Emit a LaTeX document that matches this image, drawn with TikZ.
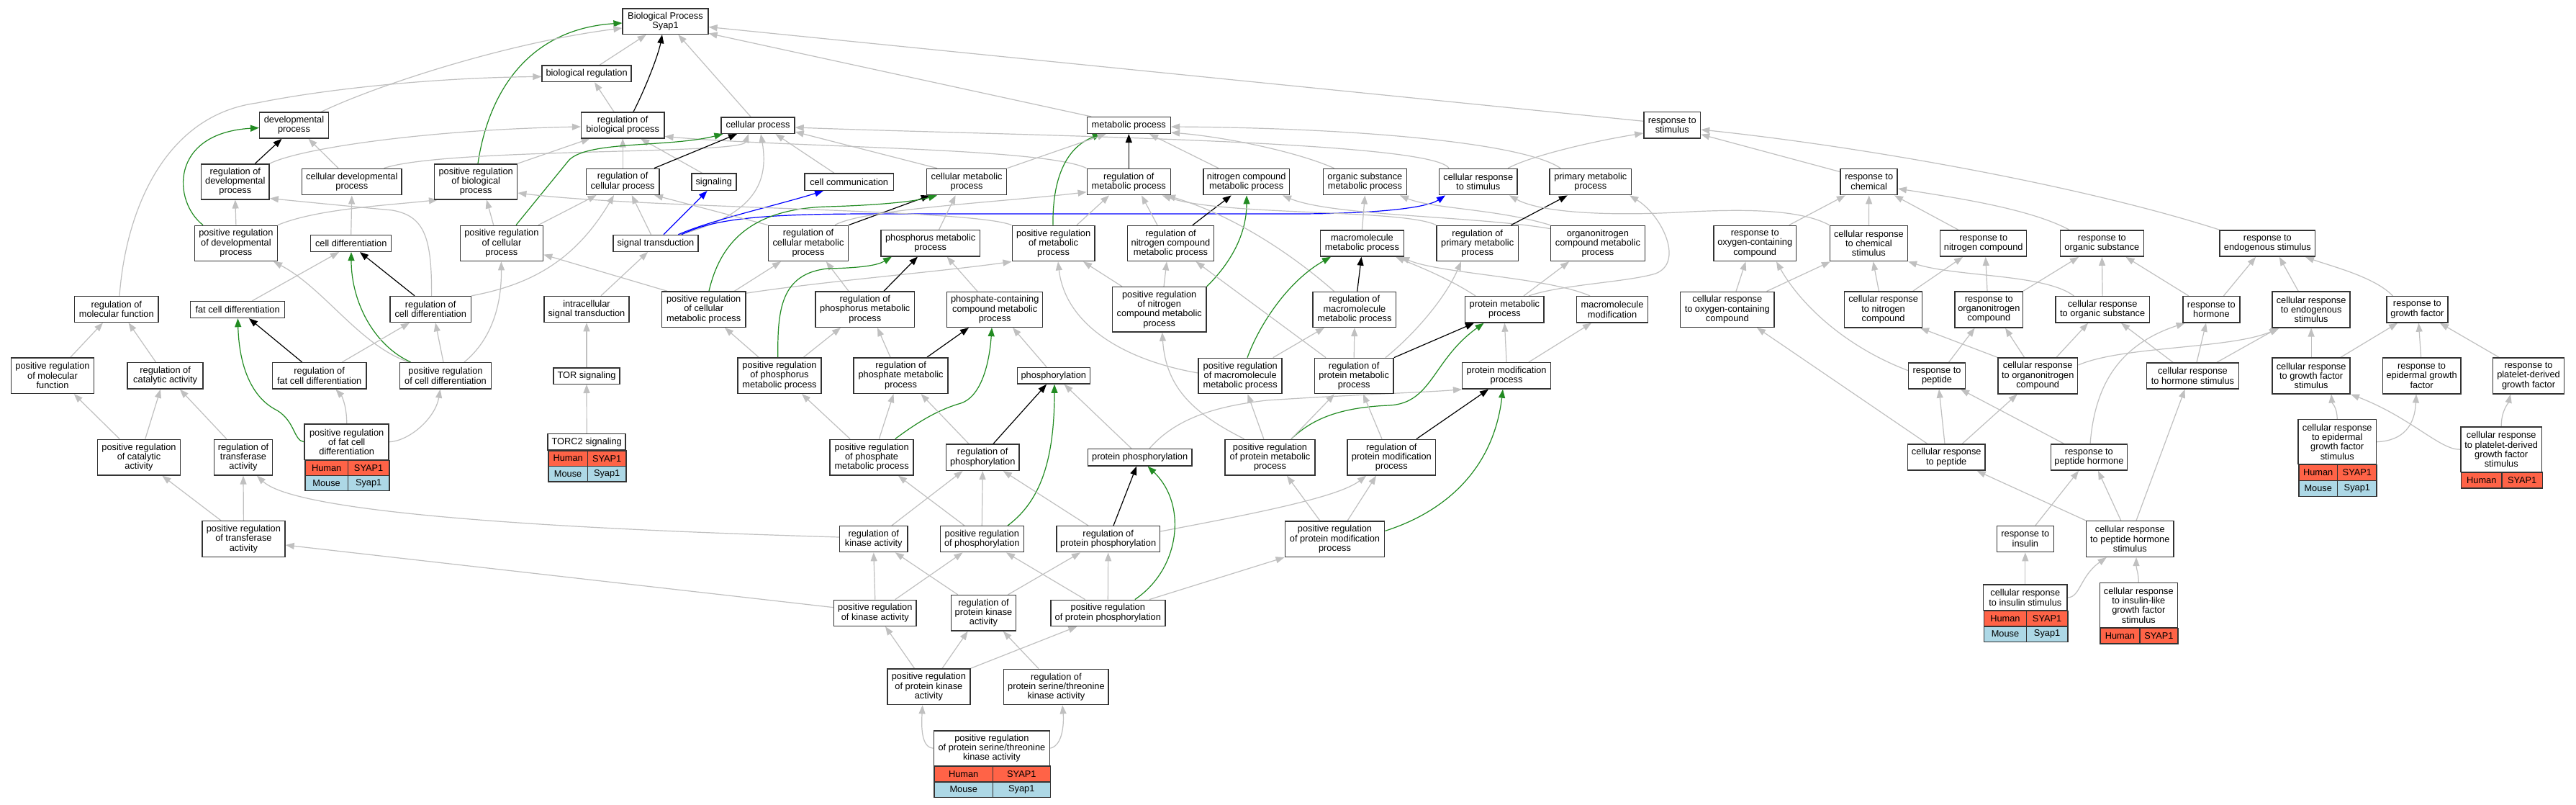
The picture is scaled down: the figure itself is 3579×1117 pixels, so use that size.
\documentclass[tikz,border=0pt]{standalone}
\usepackage{fontspec}
\setmainfont{Liberation Sans}
\usetikzlibrary{arrows.meta}
\pgfdeclarelayer{bg}
\pgfdeclarelayer{edges}
\pgfsetlayers{bg,edges,main}
\definecolor{edgegray}{RGB}{192,192,192}
\definecolor{gogreen}{RGB}{34,139,34}
\definecolor{goblue}{RGB}{0,0,255}
\definecolor{hum}{RGB}{255,99,71}
\definecolor{mou}{RGB}{173,216,230}
\newcommand{\gofont}{\fontsize{12.8pt}{13.3pt}\selectfont}
\tikzset{
  gobox/.style={draw=black!80, line width=1.5pt, fill=white, align=center, inner xsep=2pt, inner ysep=0pt, font=\gofont},
  gocell/.style={draw=black!80, line width=1.5pt, align=center, inner sep=0pt, font=\gofont},
  isa/.style={draw=edgegray, line width=1.2pt, -{Triangle[length=12pt,width=9pt]}},
  reg/.style={isa, draw=black},
  preg/.style={isa, draw=gogreen},
  part/.style={isa, draw=goblue}
}
\newcommand{\gonode}[6]{\node[gobox, minimum width=#4pt, minimum height=#5pt] (#1) at (#2,#3) {#6};}
\newcommand{\genrow}[9]{%
  \node[gocell, fill=#7, anchor=north west, minimum width={(#3)-(#2)}, minimum height={(#6)-(#5)}] (#1a) at (#2,#5) {#8};%
  \node[gocell, fill=#7, anchor=north west, minimum width={(#4)-(#3)}, minimum height={(#6)-(#5)}] (#1b) at (#3,#5) {#9};}
\begin{document}
\begin{tikzpicture}[x=1pt,y=-1pt]
\useasboundingbox (0,0) rectangle (3579,1117);
\begin{pgfonlayer}{bg}
\fill[white] (0,0) rectangle (3579,1117);
\end{pgfonlayer}
% ---------- nodes ----------
\gonode{BP}{924.5}{29.6}{118.7}{35.7}{Biological Process\\Syap1}
\gonode{bioreg}{815.1}{102.3}{124.1}{22.5}{biological regulation}
\gonode{devproc}{408.5}{174}{95.6}{36}{developmental\\process}
\gonode{regbio}{865.2}{173.9}{115.2}{35.7}{regulation of\\biological process}
\gonode{cellproc}{1053.1}{174.1}{101.8}{22.5}{cellular process}
\gonode{metproc}{1568.3}{174}{116}{22.6}{metabolic process}
\gonode{respstim}{2323.2}{173.8}{78.6}{36.3}{response to\\stimulus}
\gonode{regdev}{326.8}{252.3}{94.6}{49}{regulation of\\developmental\\process}
\gonode{celldev}{488.8}{252.5}{138.4}{36.4}{cellular developmental\\process}
\gonode{posregbio}{661.2}{252.3}{115}{49}{positive regulation\\of biological\\process}
\gonode{regcell}{865.2}{252.3}{101.8}{36}{regulation of\\cellular process}
\gonode{signaling}{991.8}{252.7}{62}{23.2}{signaling}
\gonode{cellcomm}{1179.7}{252.7}{123.7}{23.2}{cell communication}
\gonode{cellmet}{1343.1}{252.5}{111.2}{36.3}{cellular metabolic\\process}
\gonode{regmet}{1568.3}{252.5}{116}{36.3}{regulation of\\metabolic process}
\gonode{nitro}{1731.7}{252.5}{119.6}{36.3}{nitrogen compound\\metabolic process}
\gonode{orgsub}{1896.4}{252.5}{116.1}{36.3}{organic substance\\metabolic process}
\gonode{cellrespstim}{2053.8}{252.5}{108.5}{36.3}{cellular response\\to stimulus}
\gonode{primmet}{2209.8}{252.5}{113.4}{36.3}{primary metabolic\\process}
\gonode{respchem}{2596.7}{252.5}{79}{36.3}{response to\\chemical}
\gonode{posregdev}{327.9}{337.9}{114.7}{49.3}{positive regulation\\of developmental\\process}
\gonode{celldiff}{487.7}{337.9}{112}{22.9}{cell differentiation}
\gonode{posregcell}{696.9}{337.9}{115.2}{49.3}{positive regulation\\of cellular\\process}
\gonode{sigtrans}{911}{337.9}{118.3}{22.9}{signal transduction}
\gonode{regcellmet}{1123}{337.9}{111.2}{49.3}{regulation of\\cellular metabolic\\process}
\gonode{phosmet}{1292.7}{337.7}{137.1}{36.1}{phosphorus metabolic\\process}
\gonode{posregmet}{1463.6}{338}{114.7}{49.3}{positive regulation\\of metabolic\\process}
\gonode{regnitro}{1626.5}{338}{120.1}{49.3}{regulation of\\nitrogen compound\\metabolic process}
\gonode{macromet}{1892.4}{338}{116}{36}{macromolecule\\metabolic process}
\gonode{regprimmet}{2052.7}{338}{113.4}{49.3}{regulation of\\primary metabolic\\process}
\gonode{orgnitro}{2219.9}{338}{130.8}{49.3}{organonitrogen\\compound metabolic\\process}
\gonode{respoxy}{2438.2}{338}{114.7}{49.3}{response to\\oxygen-containing\\compound}
\gonode{cellrespchem}{2596.4}{338}{108}{49.3}{cellular response\\to chemical\\stimulus}
\gonode{respnitro}{2755.7}{338}{120}{36.4}{response to\\nitrogen compound}
\gonode{resporg}{2920.4}{338}{116.2}{36.4}{response to\\organic substance}
\gonode{respendo}{3150.4}{338}{132.6}{36.4}{response to\\endogenous stimulus}
\gonode{regmol}{161.8}{429.5}{116.5}{36}{regulation of\\molecular function}
\gonode{fatdiff}{330.1}{430}{130.8}{22.9}{fat cell differentiation}
\gonode{regcelldiff}{598.2}{429.5}{112.5}{36}{regulation of\\cell differentiation}
\gonode{intrasig}{815}{429.5}{118.3}{36}{intracellular\\signal transduction}
\gonode{posregcellmet}{977.7}{429.6}{116.1}{49.3}{positive regulation\\of cellular\\metabolic process}
\gonode{regphosmet}{1201.8}{429.6}{137.5}{49.3}{regulation of\\phosphorus metabolic\\process}
\gonode{phoscont}{1382.2}{429.8}{133}{49}{phosphate-containing\\compound metabolic\\process}
\gonode{posregnitro}{1610.7}{429.8}{130.4}{62.3}{positive regulation\\of nitrogen\\compound metabolic\\process}
\gonode{regmacro}{1881.9}{429.8}{115.6}{49}{regulation of\\macromolecule\\metabolic process}
\gonode{protmet}{2090.4}{429.8}{109.4}{36.3}{protein metabolic\\process}
\gonode{macromod}{2240}{429.8}{98.7}{36.3}{macromolecule\\modification}
\gonode{cellrespoxy}{2399.8}{429.8}{130.8}{49}{cellular response\\to oxygen-containing\\compound}
\gonode{cellrespnitro}{2616.6}{429.8}{108.2}{50}{cellular response\\to nitrogen\\compound}
\gonode{resporgnitro}{2763.3}{429.8}{94.5}{50}{response to\\organonitrogen\\compound}
\gonode{cellresporg}{2921.1}{429.8}{130.6}{36.3}{cellular response\\to organic substance}
\gonode{resphorm}{3072.4}{429.8}{78.7}{36.3}{response to\\hormone}
\gonode{cellrespendo}{3211.1}{429.8}{108.2}{50}{cellular response\\to endogenous\\stimulus}
\gonode{respgf}{3358.4}{429.8}{85.3}{36.3}{response to\\growth factor}
\gonode{posregmol}{73}{521.6}{114.8}{49.6}{positive regulation\\of molecular\\function}
\gonode{regcat}{229.7}{521.8}{105}{36.4}{regulation of\\catalytic activity}
\gonode{regfatdiff}{443.7}{521.8}{130.4}{36.4}{regulation of\\fat cell differentiation}
\gonode{posregcelldiff}{619}{521.8}{127.2}{36.4}{positive regulation\\of cell differentiation}
\gonode{TOR}{815}{522}{92.4}{22.5}{TOR signaling}
\gonode{posregphosmet}{1083}{521.6}{116.1}{49.6}{positive regulation\\of phosphorus\\metabolic process}
\gonode{regphosphate}{1251.6}{521.6}{130.8}{49.6}{regulation of\\phosphate metabolic\\process}
\gonode{phosphorylation}{1463.8}{521.7}{100.9}{22.7}{phosphorylation}
\gonode{posregmacro}{1723.2}{522}{116}{49.3}{positive regulation\\of macromolecule\\metabolic process}
\gonode{regprotmet}{1881.2}{522}{109.8}{49.3}{regulation of\\protein metabolic\\process}
\gonode{protmod}{2093.1}{521.8}{122.8}{36.3}{protein modification\\process}
\gonode{resppep}{2691}{521.9}{78.7}{36}{response to\\peptide}
\gonode{cellresporgnitro}{2831.2}{521.9}{110.9}{49.8}{cellular response\\to organonitrogen\\compound}
\gonode{cellresphorm}{3046.4}{521.9}{128}{36}{cellular response\\to hormone stimulus}
\gonode{cellrespgf}{3211.1}{521.9}{108.2}{49.8}{cellular response\\to growth factor\\stimulus}
\gonode{respegf}{3364.6}{521.9}{108.3}{49.8}{response to\\epidermal growth\\factor}
\gonode{resppdgf}{3513}{521.9}{99.1}{49.8}{response to\\platelet-derived\\growth factor}
\gonode{posregcat}{193}{635.1}{114.7}{49.7}{positive regulation\\of catalytic\\activity}
\gonode{regtrans}{338}{635.1}{81.3}{49.7}{regulation of\\transferase\\activity}
\gonode{posregphosphate}{1211.1}{635.1}{116.1}{49.7}{positive regulation\\of phosphate\\metabolic process}
\gonode{regphosphoryl}{1365.2}{635.2}{101.8}{36.3}{regulation of\\phosphorylation}
\gonode{protphos}{1583.7}{635.3}{144.2}{23.3}{protein phosphorylation}
\gonode{posregprotmet}{1764.5}{635.2}{124.6}{49.7}{positive regulation\\of protein metabolic\\process}
\gonode{regprotmod}{1933.3}{635.2}{122.7}{49.7}{regulation of\\protein modification\\process}
\gonode{cellresppep}{2704.2}{635.2}{107.6}{36}{cellular response\\to peptide}
\gonode{resppephorm}{2902.4}{635.2}{106.3}{36}{response to\\peptide hormone}
\gonode{posregtrans}{338.4}{748.5}{115.2}{49.7}{positive regulation\\of transferase\\activity}
\gonode{regkinase}{1213.8}{748.6}{94.6}{36}{regulation of\\kinase activity}
\gonode{posregphosphoryl}{1364.3}{748.7}{116.1}{36}{positive regulation\\of phosphorylation}
\gonode{regprotphos}{1539.7}{748.7}{143.7}{36}{regulation of\\protein phosphorylation}
\gonode{posregprotmod}{1854.5}{748.7}{138.4}{49.3}{positive regulation\\of protein modification\\process}
\gonode{respinsulin}{2813.8}{748.5}{79}{36.3}{response to\\insulin}
\gonode{cellresppephorm}{2959.3}{748.5}{121.3}{49.7}{cellular response\\to peptide hormone\\stimulus}
\gonode{posregkinase}{1215.8}{851.3}{114.7}{36}{positive regulation\\of kinase activity}
\gonode{regprotkinase}{1366.5}{851.3}{90.2}{49.3}{regulation of\\protein kinase\\activity}
\gonode{posregprotphos}{1539.3}{851.3}{158.9}{36}{positive regulation\\of protein phosphorylation}
\gonode{posregprotkinase}{1290.4}{953.8}{114.7}{49.6}{positive regulation\\of protein kinase\\activity}
\gonode{regserthr}{1467.4}{954}{145.6}{49.3}{regulation of\\protein serine/threonine\\kinase activity}
% ---------- gene tables ----------
\gonode{posregfat}{481.7}{613.75}{117}{49.7}{positive regulation\\of fat cell\\differentiation}
\genrow{posregfatH}{423.2}{482.6}{540.2}{638.6}{659.6}{hum}{Human}{SYAP1}
\genrow{posregfatM}{423.2}{482.6}{540.2}{659.6}{680.9}{mou}{Mouse}{Syap1}
\gonode{TORC2}{815.2}{613.8}{108}{22.4}{TORC2 signaling}
\genrow{TORC2H}{761.2}{815.6}{869.2}{625}{646.7}{hum}{Human}{SYAP1}
\genrow{TORC2M}{761.2}{815.6}{869.2}{646.7}{668}{mou}{Mouse}{Syap1}
\gonode{cellrespegf}{3247.2}{613.7}{108.3}{62}{cellular response\\to epidermal\\growth factor\\stimulus}
\genrow{cellrespegfH}{3193}{3246.9}{3301.3}{644.7}{666.5}{hum}{Human}{SYAP1}
\genrow{cellrespegfM}{3193}{3246.9}{3301.3}{666.5}{688.7}{mou}{Mouse}{Syap1}
\gonode{cellresppdgf}{3475.2}{624.2}{112.8}{62.4}{cellular response\\to platelet-derived\\growth factor\\stimulus}
\genrow{cellresppdgfH}{3418.8}{3475.2}{3531.6}{655.4}{677.3}{hum}{Human}{SYAP1}
\gonode{cellrespins}{2813.8}{829.85}{116.3}{35.7}{cellular response\\to insulin stimulus}
\genrow{cellrespinsH}{2755.7}{2814.7}{2872}{847.7}{869}{hum}{Human}{SYAP1}
\genrow{cellrespinsM}{2755.7}{2814.7}{2872}{869}{890.7}{mou}{Mouse}{Syap1}
\gonode{cellrespigf}{2971.3}{840.5}{108}{62.4}{cellular response\\to insulin-like\\growth factor\\stimulus}
\genrow{cellrespigfH}{2917.3}{2972}{3025.3}{871.7}{893.3}{hum}{Human}{SYAP1}
\gonode{posregserthr}{1377.9}{1039.15}{161.2}{48.3}{positive regulation\\of protein serine/threonine\\kinase activity}
\genrow{posregserthrH}{1297.3}{1378.6}{1458.5}{1063.3}{1085}{hum}{Human}{SYAP1}
\genrow{posregserthrM}{1297.3}{1378.6}{1458.5}{1085}{1106.7}{mou}{Mouse}{Syap1}
% ---------- edges ----------
\begin{pgfonlayer}{edges}
\draw[isa] ([xshift=17.9pt]bioreg.north) -- ([xshift=-26.7pt]BP.south);
\draw[reg] ([xshift=14.8pt]regbio.north) .. controls (898,120) and (915,75) .. ([xshift=-4.5pt]BP.south);
\draw[isa] ([xshift=-10.1pt]cellproc.north) -- ([xshift=17.9pt]BP.south);
\draw[preg] ([xshift=2.8pt]posregbio.north) .. controls (680,120) and (740,40) .. ([yshift=-2.4pt]BP.west);
\draw[isa] ([xshift=37.9pt]devproc.north) .. controls (520,120) and (700,60) .. ([yshift=-9.4pt]BP.west);
\draw[isa] ([xshift=-52pt]metproc.north) -- ([yshift=-16.8pt]BP.east);
\draw[isa] ([yshift=5.5pt]respstim.west) -- ([yshift=-7.9pt]BP.east);
\draw[isa] ([xshift=-12.2pt]regbio.north) -- ([xshift=10.9pt]bioreg.south);
\draw[isa] ([xshift=4.2pt]regmol.north) .. controls (175,290) and (230,160) .. (357,143) .. controls (450,124) and (600,108) .. ([yshift=-4.1pt]bioreg.west);
\draw[reg] ([xshift=27.7pt]regdev.north) -- ([xshift=-17pt]devproc.south);
\draw[isa] ([xshift=-18.8pt]celldev.north) -- ([xshift=20.1pt]devproc.south);
\draw[preg] ([xshift=-45.9pt]posregdev.north) .. controls (240,280) and (235,185) .. ([yshift=-3.5pt]devproc.west);
\draw[isa] (regdev.north east) .. controls (420,205) and (600,180) .. ([yshift=-2.1pt]regbio.west);
\draw[isa] ([xshift=44.7pt]celldev.north) .. controls (620,205) and (1030,215) .. ([xshift=-13.1pt]cellproc.south);
\draw[isa] (posregdev.north) -- (regdev.south);
\draw[isa] (posregdev.north east) .. controls (440,290) and (540,285) .. ([xshift=5pt]posregbio.south west);
\draw[isa] (celldiff.north) -- (celldev.south);
\draw[isa] (posregbio.north east) -- ([xshift=-45.6pt]regbio.south);
\draw[isa] (regcell.north) -- (regbio.south);
\draw[isa] ([xshift=-16.3pt]signaling.north) -- ([xshift=24.8pt]regbio.south);
\draw[isa] (regmet.north west) .. controls (1450,205) and (1100,205) .. ([yshift=3pt]regbio.south east);
\draw[reg] ([xshift=43.8pt]regcell.north) -- ([xshift=-29.1pt]cellproc.south);
\draw[preg] ([xshift=20.1pt]posregcell.north) -- (790,223) .. controls (815,195) and (930,205) .. ([xshift=3pt]cellproc.south west);
\draw[isa] ([xshift=-20.7pt]cellcomm.north) -- ([xshift=24.4pt]cellproc.south);
\draw[isa] ([xshift=-41.1pt]cellmet.north) -- ([yshift=3pt]cellproc.south east);
\draw[isa] ([xshift=-40.8pt]cellrespstim.north) .. controls (1990,195) and (1400,188) .. ([yshift=-2.9pt]cellproc.east);
\draw[isa] ([xshift=34pt]sigtrans.north) .. controls (1040,300) and (1070,260) .. ([xshift=3.9pt]cellproc.south);
\draw[isa] ([xshift=-11.2pt]posregcell.north) -- ([xshift=14.8pt]posregbio.south);
\draw[isa] ([xshift=51.1pt]posregcell.north) -- ([xshift=-36.6pt]regcell.south);
\draw[isa] ([xshift=1.4pt]regcelldiff.north) .. controls (600,330) and (590,300) .. (545,292) .. controls (480,286) and (420,280) .. ([yshift=2pt]regdev.south east);
\draw[isa] (regcelldiff.north east) .. controls (740,395) and (800,360) .. ([xshift=-12.2pt]regcell.south);
\draw[reg] ([xshift=-22.2pt]regcelldiff.north) -- ([xshift=12.3pt]celldiff.south);
\draw[isa] ([xshift=20.3pt]fatdiff.north) -- ([xshift=-16.7pt]celldiff.south);
\draw[preg] ([xshift=-48.5pt]posregcelldiff.north) .. controls (520,480) and (488,420) .. ([xshift=0.3pt]celldiff.south);
\draw[isa] ([xshift=-51pt]posregcelldiff.north) .. controls (500,480) and (450,400) .. ([xshift=-6pt]posregdev.south east);
\draw[isa] ([xshift=-3pt]posregcelldiff.north) -- ([xshift=6.8pt]regcelldiff.south);
\draw[isa] ([xshift=26pt]posregcelldiff.north) .. controls (685,470) and (697,420) .. ([xshift=-0.5pt]posregcell.south);
\draw[reg] ([xshift=-24.1pt]regfatdiff.north) -- ([xshift=15.9pt]fatdiff.south);
\draw[isa] ([xshift=31.7pt]regfatdiff.north) -- ([xshift=-29.2pt]regcelldiff.south);
\draw[preg] (posregfat.west) .. controls (408,612) and (410,585) .. (385,570) .. controls (345,550) and (332,500) .. ([xshift=0.3pt]fatdiff.south);
\draw[isa] (posregfat.north) .. controls (482,565) and (475,550) .. ([xshift=22.8pt]regfatdiff.south);
\draw[isa] (posregfat.east) .. controls (570,612) and (605,580) .. ([xshift=-7.4pt]posregcelldiff.south);
\draw[isa] ([xshift=25pt]posregmol.north) -- ([xshift=-18.8pt]regmol.south);
\draw[isa] ([xshift=-13.2pt]regcat.north) -- ([xshift=16.8pt]regmol.south);
\draw[isa] ([xshift=-27pt]posregcat.north) -- ([xshift=29.7pt]posregmol.south);
\draw[isa] ([xshift=8.8pt]posregcat.north) -- ([xshift=-6.7pt]regcat.south);
\draw[isa] ([xshift=-23.3pt]regtrans.north) -- ([xshift=20.3pt]regcat.south);
\draw[isa] ([xshift=-31.4pt]posregtrans.north) -- ([xshift=32.4pt]posregcat.south);
\draw[isa] (posregtrans.north) -- (regtrans.south);
\draw[isa] ([yshift=2.6pt]regkinase.west) .. controls (900,738) and (420,720) .. ([xshift=19pt]regtrans.south);
\draw[isa] ([yshift=7.7pt]posregkinase.west) -- ([yshift=-8.5pt]posregtrans.east);
\draw[isa] ([xshift=20pt]intrasig.north) -- ([xshift=-11pt]sigtrans.south);
\draw[isa] (TOR.north) -- (intrasig.south);
\draw[isa] (TORC2.north) -- (TOR.south);
\draw[part] ([xshift=11pt]sigtrans.north) -- ([xshift=-9.2pt]signaling.south);
\draw[part] ([xshift=31.4pt]sigtrans.north) .. controls (990,305) and (1080,285) .. ([xshift=-35.7pt]cellcomm.south);
\draw[part] ([xshift=36pt]sigtrans.north) .. controls (990,305) and (1050,297) .. (1210,297) -- (1800,297) .. controls (1900,297) and (1980,290) .. ([xshift=-45.8pt]cellrespstim.south);
\draw[isa] ([xshift=-6.5pt]sigtrans.north) -- ([xshift=12.5pt]regcell.south);
\draw[isa] (regcellmet.north west) -- ([xshift=43.8pt]regcell.south);
\draw[reg] (regcellmet.north east) -- ([xshift=-51.3pt]cellmet.south);
\draw[isa] ([xshift=37pt]regcellmet.north) .. controls (1200,290) and (1400,280) .. ([yshift=-14.2pt]regmet.west);
\draw[isa] ([xshift=-50.9pt]posregcellmet.north) -- ([yshift=-15.7pt]posregcell.east);
\draw[isa] ([xshift=42.8pt]posregcellmet.north) -- ([xshift=-38pt]regcellmet.south);
\draw[isa] ([yshift=-3pt]posregcellmet.north east) .. controls (1150,390) and (1300,378) .. (posregmet.south west);
\draw[preg] ([xshift=7.3pt]posregcellmet.north) .. controls (1000,340) and (1040,290) .. (1150,287) .. controls (1220,285) and (1270,280) .. ([xshift=-41.1pt]cellmet.south);
\draw[isa] ([xshift=-22.8pt]regphosmet.north) -- ([xshift=24.8pt]regcellmet.south);
\draw[reg] ([xshift=26.2pt]regphosmet.north) -- ([xshift=-17.7pt]phosmet.south);
\draw[preg] ([xshift=-2.2pt]posregphosmet.north) .. controls (1080,430) and (1085,380) .. (1150,373) .. controls (1200,372) and (1220,368) .. ([xshift=-53.7pt]phosmet.south);
\draw[isa] ([xshift=-29pt]posregphosmet.north) -- ([xshift=29.3pt]posregcellmet.south);
\draw[isa] ([xshift=33.5pt]posregphosmet.north) -- ([xshift=-33.8pt]regphosmet.south);
\draw[isa] ([xshift=-14.6pt]regphosphate.north) -- ([xshift=17.2pt]regphosmet.south);
\draw[reg] ([xshift=36.4pt]regphosphate.north) -- ([xshift=-36.2pt]phoscont.south);
\draw[isa] ([xshift=-24.2pt]phoscont.north) -- ([xshift=22.9pt]phosmet.south);
\draw[isa] ([xshift=11.9pt]phosmet.north) -- ([xshift=-15.5pt]cellmet.south);
\draw[isa] ([xshift=-9.8pt]phosphorylation.north) -- ([xshift=24.8pt]phoscont.south);
\draw[preg] ([xshift=32.65pt]posregphosphate.north) .. controls (1270,590) and (1300,570) .. (1335,560) .. controls (1365,550) and (1375,500) .. ([xshift=-4.2pt]phoscont.south);
\draw[reg] ([xshift=14.8pt]regphosphoryl.north) -- ([xshift=-9.8pt]phosphorylation.south);
\draw[preg] ([xshift=35.7pt]posregphosphoryl.north) .. controls (1440,700) and (1465,650) .. ([xshift=1.2pt]phosphorylation.south);
\draw[isa] ([xshift=-11.7pt]protphos.north) -- ([xshift=14.8pt]phosphorylation.south);
\draw[isa] ([yshift=4pt]posregmacro.west) .. controls (1560,500) and (1480,450) .. ([xshift=6.4pt]posregmet.south);
\draw[isa] ([xshift=-51.7pt]posregnitro.north) -- ([xshift=41.4pt]posregmet.south);
\draw[isa] ([xshift=6.3pt]posregnitro.north) -- ([xshift=-5.5pt]regnitro.south);
\draw[preg] (posregnitro.north east) .. controls (1715,360) and (1732,320) .. ([xshift=0.3pt]nitro.south);
\draw[reg] ([xshift=30.5pt]regnitro.north) -- ([xshift=-21pt]nitro.south);
\draw[isa] ([xshift=-18.5pt]regnitro.north) -- ([xshift=17.7pt]regmet.south);
\draw[isa] ([xshift=32.4pt]posregmet.north) -- ([xshift=-27.3pt]regmet.south);
\draw[preg] ([xshift=-0.6pt]posregmet.north) .. controls (1462,250) and (1480,205) .. ([xshift=-38.3pt]metproc.south);
\draw[isa] (posregmet.north west) .. controls (1350,290) and (900,290) .. ([yshift=-15.7pt]posregbio.east);
\draw[isa] (cellmet.north east) -- ([xshift=-31.7pt]metproc.south);
\draw[reg] (regmet.north) -- (metproc.south);
\draw[isa] ([xshift=-38.7pt]nitro.north) -- ([xshift=28.7pt]metproc.south);
\draw[isa] ([xshift=-42.8pt]orgsub.north) .. controls (1800,210) and (1700,190) .. ([yshift=2pt]metproc.south east);
\draw[isa] ([xshift=-41.8pt]primmet.north) .. controls (2120,200) and (1900,178) .. ([yshift=-2pt]metproc.east);
\draw[isa] ([xshift=-28.3pt]regmacro.north) .. controls (1780,340) and (1700,295) .. ([xshift=52.7pt]regmet.south);
\draw[isa] (regprimmet.north west) .. controls (1950,290) and (1700,300) .. ([xshift=46.4pt]regmet.south);
\draw[reg] ([xshift=3.8pt]regmacro.north) -- ([xshift=-0.9pt]macromet.south);
\draw[preg] ([xshift=9.8pt]posregmacro.north) .. controls (1750,450) and (1790,390) .. ([xshift=-43.4pt]macromet.south);
\draw[isa] ([xshift=45.55pt]posregmacro.north) -- ([xshift=-41.9pt]regmacro.south);
\draw[isa] (regprotmet.north) -- (regmacro.south);
\draw[reg] (regprotmet.north east) -- ([xshift=-42.4pt]protmet.south);
\draw[isa] ([xshift=43.8pt]regprotmet.north) .. controls (1970,460) and (2010,410) .. ([xshift=-22.7pt]regprimmet.south);
\draw[isa] ([xshift=-39.2pt]regprotmet.north) -- ([xshift=35.1pt]regnitro.south);
\draw[isa] ([xshift=-40.4pt]protmet.north) .. controls (2010,385) and (1970,370) .. ([xshift=-12pt]macromet.south east);
\draw[isa] ([xshift=-31pt]macromod.north) .. controls (2150,385) and (2000,380) .. ([xshift=-5pt]macromet.south east);
\draw[isa] (macromet.north) -- (orgsub.south);
\draw[isa] (orgnitro.north west) .. controls (2080,290) and (1990,290) .. ([xshift=48.6pt]orgsub.south);
\draw[isa] ([yshift=-5pt]orgnitro.north west) .. controls (2050,300) and (1850,300) .. ([xshift=50.3pt]nitro.south);
\draw[isa] ([xshift=26.6pt]protmet.north) -- ([xshift=-39.9pt]orgnitro.south);
\draw[isa] ([xshift=33.6pt]protmet.north) .. controls (2170,395) and (2260,392) .. (2300,380) .. controls (2340,365) and (2310,300) .. ([xshift=-3pt]primmet.south east);
\draw[reg] ([xshift=46.8pt]regprimmet.north) -- ([xshift=-32.1pt]primmet.south);
\draw[isa] (protmod.north) -- (protmet.south);
\draw[isa] ([xshift=30.9pt]protmod.north) -- ([xshift=-29pt]macromod.south);
\draw[isa] ([xshift=13.3pt]protphos.north) .. controls (1630,585) and (1680,565) .. (1760,556) .. controls (1880,548) and (1980,545) .. (protmod.south west);
\draw[reg] ([xshift=34.7pt]regprotmod.north) -- ([xshift=-25.1pt]protmod.south);
\draw[preg] ([yshift=11.4pt]posregprotmod.east) .. controls (2010,710) and (2075,650) .. ([xshift=-5.1pt]protmod.south);
\draw[preg] ([xshift=29.5pt]posregprotmet.north) .. controls (1820,585) and (1855,566) .. (1930,563) .. controls (1990,560) and (1990,500) .. ([xshift=-28.8pt]protmet.south);
\draw[isa] ([xshift=-8.7pt]posregprotmet.north) -- ([xshift=10.3pt]posregmacro.south);
\draw[isa] ([xshift=29.5pt]posregprotmet.north) -- ([xshift=-27.2pt]regprotmet.south);
\draw[isa] ([xshift=-35.9pt]posregprotmet.north) .. controls (1660,575) and (1620,540) .. ([xshift=4pt]posregnitro.south);
\draw[isa] ([xshift=-13.3pt]regprotmod.north) -- ([xshift=12.8pt]regprotmet.south);
\draw[isa] ([xshift=-20.5pt]posregprotmod.north) -- ([xshift=23.5pt]posregprotmet.south);
\draw[isa] ([xshift=17.5pt]posregprotmod.north) -- ([xshift=-21.3pt]regprotmod.south);
\draw[isa] ([yshift=10.7pt]regprotphos.east) .. controls (1750,712) and (1860,690) .. ([xshift=-35.3pt]regprotmod.south);
\draw[isa] ([xshift=57.7pt]posregprotphos.north) -- (posregprotmod.south west);
\draw[isa] (posregphosphoryl.north) -- (regphosphoryl.south);
\draw[isa] ([xshift=-27.7pt]regprotphos.north) -- ([xshift=28.55pt]regphosphoryl.south);
\draw[isa] ([xshift=25.2pt]regkinase.north) -- ([xshift=-27.7pt]regphosphoryl.south);
\draw[isa] ([xshift=-24.3pt]posregphosphoryl.north) -- ([xshift=36.9pt]posregphosphate.south);
\draw[isa] ([xshift=-30.1pt]posregphosphate.north) -- ([xshift=31pt]posregphosmet.south);
\draw[isa] ([xshift=10.3pt]posregphosphate.north) -- ([xshift=-10.1pt]regphosphate.south);
\draw[isa] ([xshift=-19.2pt]regphosphoryl.north) -- ([xshift=27.9pt]regphosphate.south);
\draw[isa] (posregkinase.north) -- (regkinase.south);
\draw[isa] ([xshift=-35.7pt]regprotkinase.north) -- ([xshift=29.95pt]regkinase.south);
\draw[isa] ([xshift=27.95pt]posregkinase.north) -- ([xshift=-26.8pt]posregphosphoryl.south);
\draw[isa] ([xshift=-31.7pt]posregprotphos.north) -- ([xshift=33.7pt]posregphosphoryl.south);
\draw[isa] ([xshift=33.9pt]regprotkinase.north) -- ([xshift=-38.7pt]regprotphos.south);
\draw[isa] (posregprotphos.north) -- (regprotphos.south);
\draw[reg] ([xshift=7.3pt]regprotphos.north) -- ([xshift=-4.7pt]protphos.south);
\draw[preg] ([xshift=37.5pt]posregprotphos.north) .. controls (1640,790) and (1650,700) .. ([xshift=10.9pt]protphos.south);
\draw[isa] ([xshift=18.6pt]posregprotkinase.north) -- ([xshift=-21.9pt]regprotkinase.south);
\draw[isa] ([xshift=-24.4pt]regserthr.north) -- ([xshift=27.25pt]regprotkinase.south);
\draw[isa] (posregprotkinase.north east) -- ([xshift=-42.9pt]posregprotphos.south);
\draw[isa] ([xshift=-19.9pt]posregprotkinase.north) -- ([xshift=14.2pt]posregkinase.south);
\draw[isa] (posregserthr.west) .. controls (1280,1038) and (1280,1010) .. ([xshift=-8.7pt]posregprotkinase.south);
\draw[isa] (posregserthr.east) .. controls (1478,1035) and (1478,1000) .. ([xshift=8.6pt]regserthr.south);
% right part
\draw[isa] ([xshift=41.2pt]cellrespstim.north) .. controls (2130,215) and (2220,195) .. ([yshift=-11.2pt]respstim.west);
\draw[isa] ([yshift=-5pt]respchem.north west) -- ([yshift=-12.9pt]respstim.east);
\draw[isa] (respendo.north west) .. controls (2900,260) and (2600,205) .. ([yshift=-6.2pt]respstim.east);
\draw[isa] (cellrespchem.north west) .. controls (2500,290) and (2420,290) .. (2330,295) .. controls (2230,300) and (2140,295) .. ([xshift=43.2pt]cellrespstim.south);
\draw[isa] ([xshift=47.5pt]respoxy.north) -- ([xshift=-32.9pt]respchem.south);
\draw[isa] (cellrespchem.north) -- (respchem.south);
\draw[isa] ([xshift=-35.1pt]respnitro.north) -- ([xshift=35.3pt]respchem.south);
\draw[isa] ([xshift=-45.6pt]resporg.north) .. controls (2820,290) and (2720,275) .. ([yshift=-9.5pt]respchem.east);
\draw[isa] ([xshift=12.2pt]cellrespoxy.north) -- ([xshift=-12.8pt]respoxy.south);
\draw[isa] ([xshift=54.7pt]cellrespoxy.north) -- ([xshift=1.3pt]cellrespchem.south west);
\draw[isa] ([xshift=-6.2pt]cellrespnitro.north) -- ([xshift=6.1pt]cellrespchem.south);
\draw[isa] ([xshift=41.4pt]cellrespnitro.north) -- ([xshift=-28.7pt]respnitro.south);
\draw[isa] ([xshift=-2.3pt]resporgnitro.north) -- ([xshift=3pt]respnitro.south);
\draw[isa] (resporgnitro.north east) -- ([xshift=-32.4pt]resporg.south);
\draw[isa] (cellresporg.north) -- (resporg.south);
\draw[isa] ([xshift=-39.7pt]cellresporg.north) .. controls (2840,380) and (2720,385) .. (cellrespchem.south east);
\draw[isa] ([xshift=-31.6pt]resphorm.north) -- ([xshift=33.1pt]resporg.south);
\draw[isa] ([xshift=17pt]resphorm.north) -- ([xshift=-16.4pt]respendo.south);
\draw[isa] ([xshift=-18.1pt]cellrespendo.north) -- ([xshift=16.4pt]respendo.south);
\draw[isa] ([xshift=-34.1pt]respgf.north) .. controls (3300,385) and (3240,370) .. ([xshift=52.6pt]respendo.south);
\draw[isa] (cellresporgnitro.north west) -- ([xshift=51.4pt]cellrespnitro.south);
\draw[isa] ([xshift=-18.7pt]cellresporgnitro.north) -- ([xshift=22.7pt]resporgnitro.south);
\draw[isa] ([xshift=25.8pt]cellresporgnitro.north) -- ([xshift=-20.1pt]cellresporg.south);
\draw[isa] ([yshift=14.9pt]cellresporgnitro.east) .. controls (2950,480) and (3100,485) .. ([xshift=-44.3pt]cellrespendo.south);
\draw[isa] ([xshift=33.6pt]cellresphorm.north) -- ([xshift=-46.1pt]cellrespendo.south);
\draw[isa] ([xshift=-27.4pt]cellresphorm.north) -- ([xshift=25.9pt]cellresporg.south);
\draw[isa] ([xshift=5.6pt]cellresphorm.north) -- ([xshift=-7.4pt]resphorm.south);
\draw[isa] ([xshift=16.5pt]resppep.north) -- ([xshift=-19.7pt]resporgnitro.south);
\draw[isa] ([yshift=7.3pt]resppep.west) .. controls (2560,480) and (2500,420) .. ([xshift=29.8pt]respoxy.south);
\draw[isa] ([xshift=-26.2pt]cellresppep.north) -- ([xshift=41.2pt]cellrespoxy.south);
\draw[isa] ([xshift=-2.2pt]cellresppep.north) -- ([xshift=3pt]resppep.south);
\draw[isa] ([xshift=21.8pt]cellresppep.north) -- ([xshift=-28.6pt]cellresporgnitro.south);
\draw[isa] ([xshift=-34.4pt]resppephorm.north) -- ([xshift=33pt]resppep.south);
\draw[isa] ([xshift=1.6pt]resppephorm.north) .. controls (2910,540) and (2940,480) .. ([xshift=-36.8pt]resphorm.south);
\draw[isa] (cellresppephorm.north west) -- ([xshift=42.5pt]cellresppep.south);
\draw[isa] ([xshift=-12.6pt]cellresppephorm.north) -- ([xshift=12.6pt]resppephorm.south);
\draw[isa] ([xshift=8.7pt]cellresppephorm.north) -- ([xshift=-10.8pt]cellresphorm.south);
\draw[isa] ([xshift=14.2pt]respinsulin.north) -- ([xshift=-14.4pt]resppephorm.south);
\draw[isa] (cellrespins.north) -- (respinsulin.south);
\draw[isa] (cellrespins.east) .. controls (2890,830) and (2890,800) .. ([xshift=-32.6pt]cellresppephorm.south);
\draw[isa] (cellrespigf.north) .. controls (2971,795) and (2968,790) .. ([xshift=8.7pt]cellresppephorm.south);
\draw[isa] (cellrespgf.north) -- (cellrespendo.south);
\draw[isa] ([xshift=40.9pt]cellrespgf.north) -- ([xshift=-27.4pt]respgf.south);
\draw[isa] ([xshift=-1pt]respegf.north) -- ([xshift=2pt]respgf.south);
\draw[isa] ([xshift=-41pt]resppdgf.north) -- ([xshift=31.6pt]respgf.south);
\draw[isa] (cellrespegf.north) .. controls (3247,565) and (3240,560) .. ([xshift=27.9pt]cellrespgf.south);
\draw[isa] (cellrespegf.east) .. controls (3340,612) and (3355,590) .. ([xshift=-7.6pt]respegf.south);
\draw[isa] (cellresppdgf.west) .. controls (3390,625) and (3350,580) .. (cellrespgf.south east);
\draw[isa] (cellresppdgf.north) .. controls (3475,570) and (3485,560) .. ([xshift=-25pt]resppdgf.south);
\end{pgfonlayer}
\end{tikzpicture}
\end{document}
